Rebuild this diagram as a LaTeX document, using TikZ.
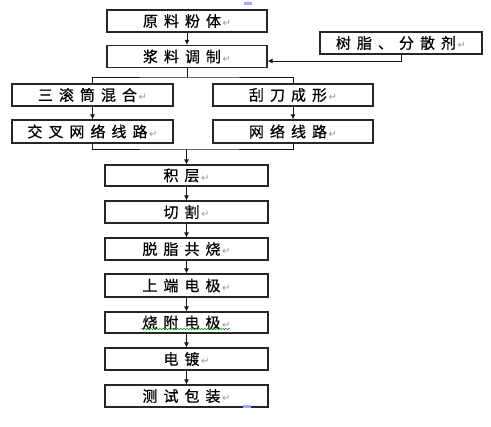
\documentclass[tikz,border=0pt]{standalone}
\usepackage{fontspec}
\usetikzlibrary{arrows.meta,decorations.pathmorphing}
\newfontfamily\cjk[LetterSpace=40,FakeBold=0.6]{Noto Sans CJK SC}
\newfontfamily\markfont{DejaVu Sans}
\newcommand{\pmark}{{\markfont\fontsize{10}{10}\selectfont\color{gray!80}\,↵}}
\tikzset{
  stepbox/.style={draw=black!85, line width=1.1pt, rectangle, minimum width=161pt, minimum height=22pt, inner sep=0pt, font=\cjk\fontsize{15}{15}\selectfont},
  flow/.style={line width=0.9pt, draw=black!90},
  arr/.style={flow, -{Latex[length=5pt,width=5pt]}}
}
\begin{document}
\begin{tikzpicture}[x=1pt,y=-1pt]
\useasboundingbox (0,0) rectangle (491,427);
\fill[white] (0,0) rectangle (491,427);
\node[stepbox, minimum width=160pt] (n1) at (187,21) {原料粉体\pmark};
\node[stepbox, minimum width=160pt] (n2) at (187,56.5) {浆料调制\pmark};
\node[stepbox, minimum width=162pt] (res) at (401,43) {树脂、分散剂\pmark};
\node[stepbox] (a) at (92.5,95) {三滚筒混合\pmark};
\node[stepbox, minimum width=160pt] (b) at (293,95) {刮刀成形\pmark};
\node[stepbox, minimum height=23pt] (c) at (92.5,131.5) {交叉网络线路\pmark};
\node[stepbox, minimum width=160pt, minimum height=23pt] (d) at (293,131.5) {网络线路\pmark};
\node[stepbox, minimum width=163pt, minimum height=21pt] (e) at (186.5,175.5) {积层\pmark};
\node[stepbox, minimum width=163pt] (f) at (186.5,212) {切割\pmark};
\node[stepbox, minimum width=163pt] (g) at (186.5,249) {脱脂共烧\pmark};
\node[stepbox, minimum width=163pt, minimum height=23pt] (h) at (186.5,285.5) {上端电极\pmark};
\node[stepbox, minimum width=163pt, minimum height=21pt] (i) at (186.5,322.5) {烧附电极\pmark};
\node[stepbox, minimum width=163pt] (j) at (186.5,359) {电镀\pmark};
\node[stepbox, minimum width=163pt] (k) at (186.5,396) {测试包装\pmark};
% connectors
\draw[arr] (n1) -- (n2);
\draw[arr] (res.south) |- ([yshift=-4.5pt]n2.east);
\coordinate (s1) at (187,77);
\draw[flow] (n2.south) -- (s1);
\draw[flow] (a.north) |- (s1) -| (b.north);
\draw[arr] (a) -- (c);
\draw[arr] (b) -- (d);
\coordinate (m) at (186.5,149);
\draw[flow] (c.south) |- (m) -| (d.south);
\draw[arr] (m) -- (e.north);
\draw[arr] (e) -- (f);
\draw[arr] (f) -- (g);
\draw[arr] (g) -- (h);
\draw[arr] (h) -- (i);
\draw[arr] (i) -- (j);
\draw[arr] (j) -- (k);
% spell-check underline and small marks
\draw[green!60!black, line width=0.5pt, decorate, decoration={snake, segment length=3pt, amplitude=0.8pt}] (141,329) -- (230,329);
\fill[blue!35] (244,2) rectangle (252,5);
\fill[blue!35] (243,405) rectangle (251,408);
\end{tikzpicture}
\end{document}
